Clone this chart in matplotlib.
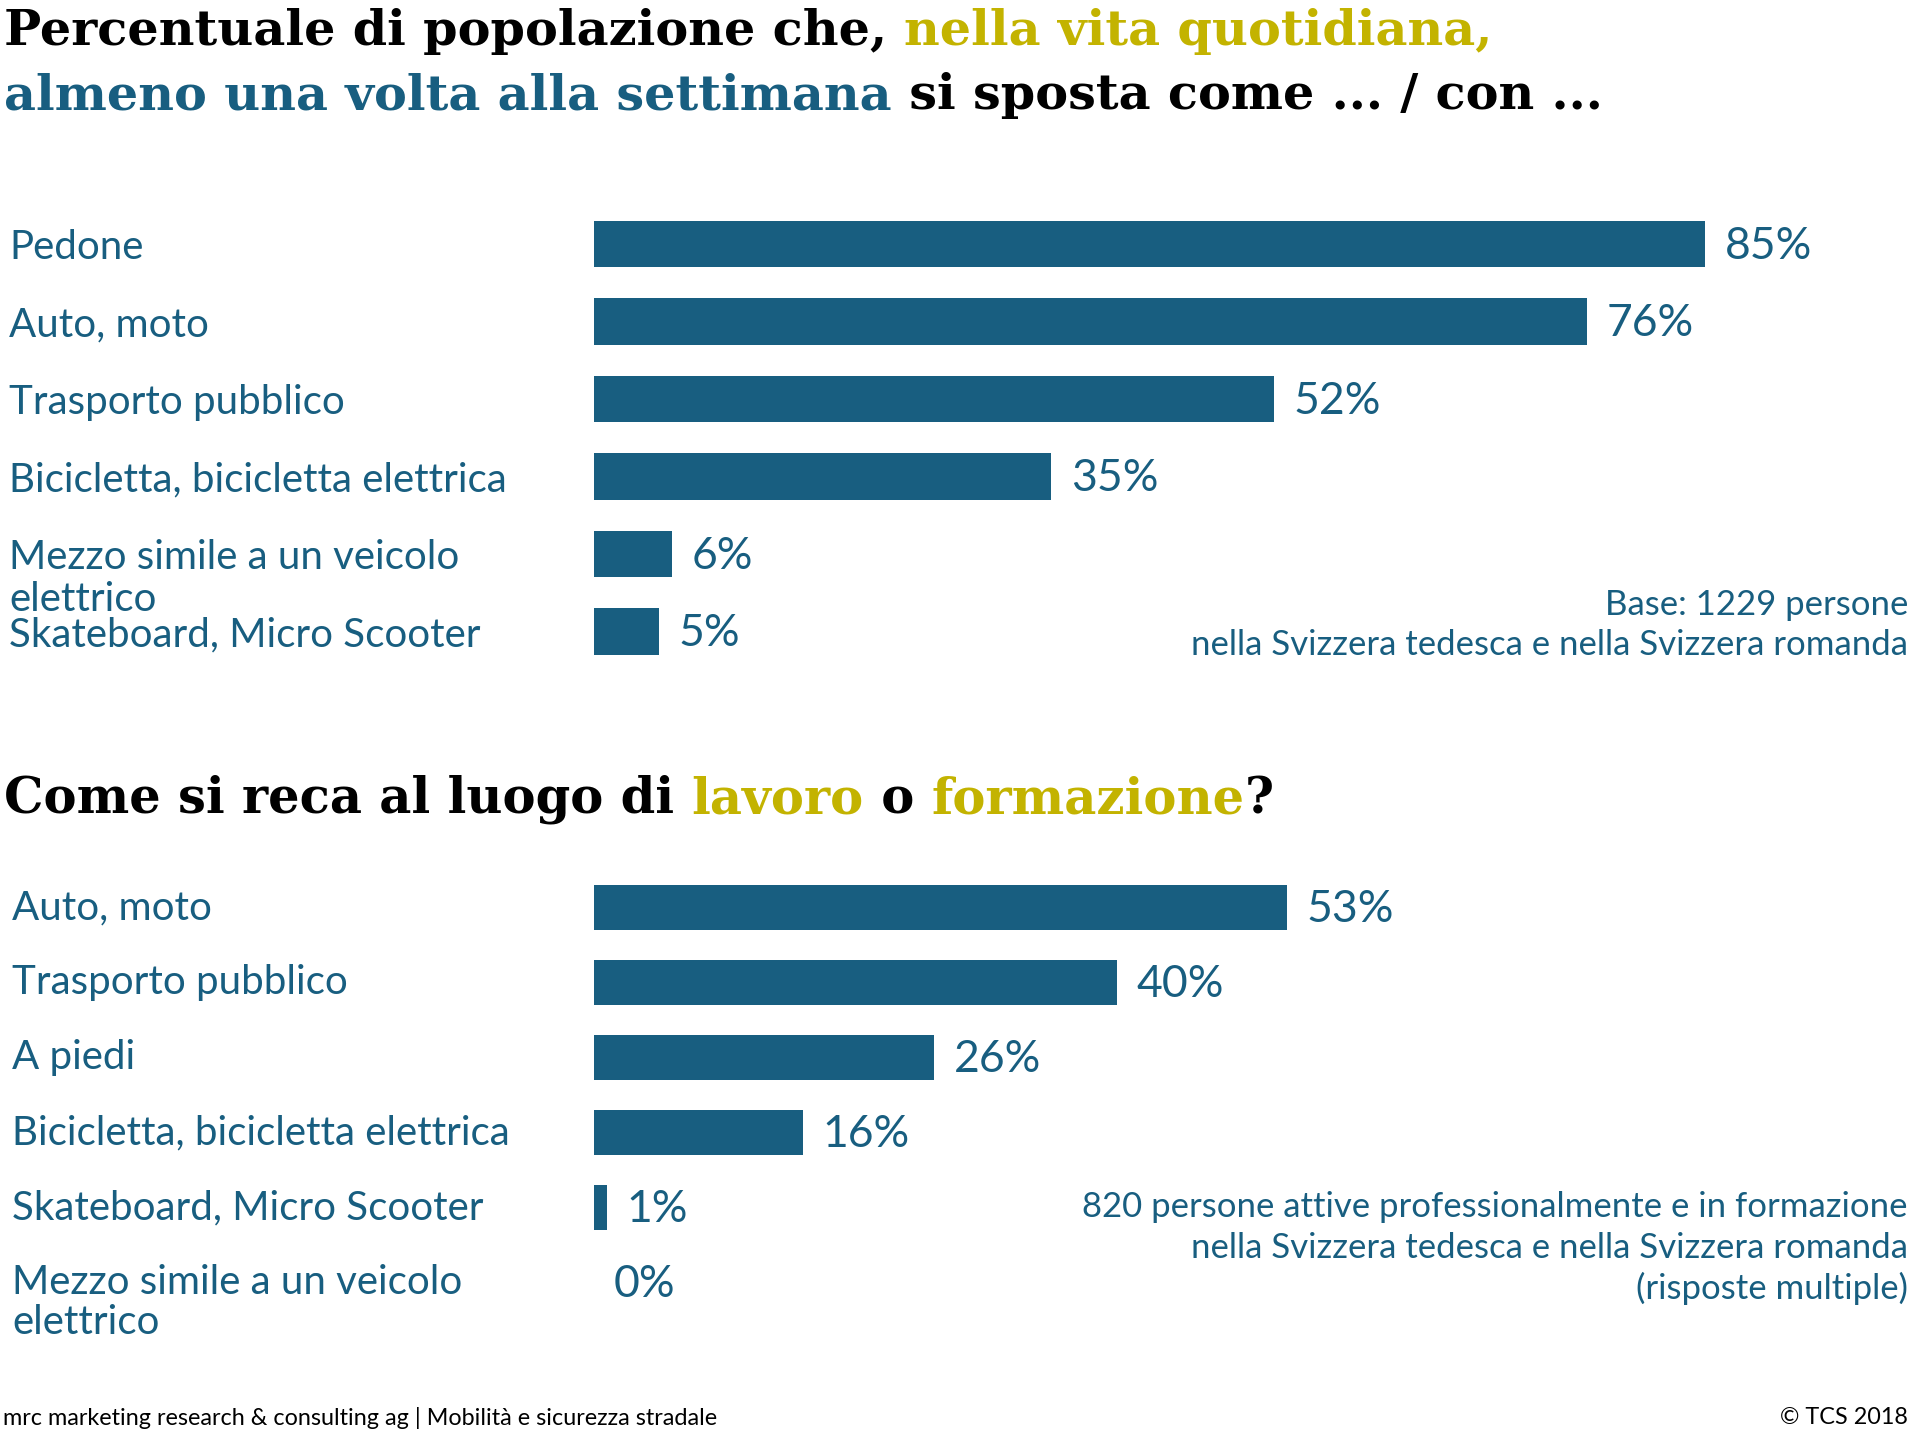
import matplotlib
matplotlib.use('Agg')
import matplotlib.pyplot as plt
from matplotlib.transforms import blended_transform_factory

W, H = 1920, 1446
BLUE = '#185e80'
GOLD = '#c3b300'

# dati: spostamenti settimanali
cat_week = ['Pedone', 'Auto, moto', 'Trasporto pubblico',
            'Bicicletta, bicicletta elettrica',
            'Mezzo simile a un veicolo\nelettrico',
            'Skateboard, Micro Scooter']
val_week = [85, 76, 52, 35, 6, 5]

# dati: tragitto lavoro / formazione
cat_work = ['Auto, moto', 'Trasporto pubblico', 'A piedi',
            'Bicicletta, bicicletta elettrica',
            'Skateboard, Micro Scooter',
            'Mezzo simile a un veicolo\nelettrico']
val_work = [53, 40, 26, 16, 1, 0]

title1 = [('Percentuale di popolazione che, ', 'black'), ('nella vita quotidiana,', GOLD)]
title2 = [('almeno una volta alla settimana', BLUE), (' si sposta come ... / con ...', 'black')]
title3 = [('Come si reca al luogo di ', 'black'), ('lavoro', GOLD), (' o ', 'black'),
          ('formazione', GOLD), ('?', 'black')]
note_week = ['Base: 1229 persone', 'nella Svizzera tedesca e nella Svizzera romanda']
note_work = ['820 persone attive professionalmente e in formazione',
             'nella Svizzera tedesca e nella Svizzera romanda',
             '(risposte multiple)']
footer_left = 'mrc marketing research & consulting ag | Mobilità e sicurezza stradale'
footer_right = '© TCS 2018'

SANS = 'Lato'
SERIF = 'DejaVu Serif'

fig = plt.figure(figsize=(W / 100, H / 100), dpi=100)
renderer = fig.canvas.get_renderer()


def fx(px):
    return px / W


def fy(py):
    return 1 - py / H


def rich_line(x_px, base_px, parts, size):
    # scrive pezzi di testo colorati uno dopo l'altro sulla stessa linea
    kw = dict(fontsize=size, family=SERIF, weight='bold')
    x = x_px
    for s, c in parts:
        fig.text(fx(x), fy(base_px), s, color=c, va='baseline', ha='left', **kw)
        probe = fig.text(0, 0, '|' + s + '|', **kw)
        ref = fig.text(0, 0, '||', **kw)
        w = probe.get_window_extent(renderer).width - ref.get_window_extent(renderer).width
        probe.remove()
        ref.remove()
        x += w


def bar_chart(top_px, bottom_px, cats, vals, label_x, label_dy):
    ax = fig.add_axes([fx(594), fy(bottom_px), 1307 / W, (bottom_px - top_px) / H])
    ypos = list(range(len(vals)))
    ax.barh(ypos, vals, height=0.6, color=BLUE)
    ax.set_xlim(0, 100)
    ax.set_ylim(len(vals) - 0.5, -0.5)
    ax.axis('off')
    tr = blended_transform_factory(fig.transFigure, ax.transData)
    for i, (c, v) in enumerate(zip(cats, vals)):
        for k, line in enumerate(c.split('\n')):
            ax.text(fx(label_x), i + label_dy + k * 0.54, line, transform=tr,
                    fontsize=29, family=SANS, color=BLUE,
                    va='center', ha='left')
        ax.text(v + 1.5, i + 0.03, f'{v}%', fontsize=32, family=SANS,
                color=BLUE, va='center', ha='left')
    return ax


rich_line(4, 45, title1, 35.6)
rich_line(4, 109, title2, 35.6)
rich_line(4, 813, title3, 35.7)

bar_chart(205, 670, cat_week, val_week, 9, 0.05)
bar_chart(870, 1320, cat_work, val_work, 12, 0.0)

for k, line in enumerate(note_week):
    fig.text(fx(1908), fy(605 + k * 40), line, fontsize=25, family=SANS,
             color=BLUE, ha='right', va='center')
for k, line in enumerate(note_work):
    fig.text(fx(1908), fy(1207 + k * 40.5), line, fontsize=25, family=SANS,
             color=BLUE, ha='right', va='center')

fig.text(fx(3), fy(1418), footer_left, fontsize=16.8, family=SANS, color='black',
         ha='left', va='center')
fig.text(fx(1908), fy(1418), footer_right, fontsize=16.8, family=SANS, color='black',
         ha='right', va='center')

fig.savefig('out.png', dpi=100)
